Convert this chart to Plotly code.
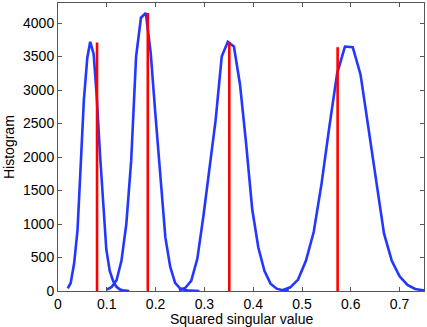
import plotly.graph_objects as go

# histogram curves, one per singular value
x1 = [0.020, 0.026, 0.033, 0.040, 0.046, 0.053, 0.060, 0.066, 0.073, 0.079,
      0.086, 0.093, 0.099, 0.106, 0.113, 0.119, 0.126, 0.132, 0.139, 0.146]
y1 = [40, 120, 410, 910, 1800, 2850, 3480, 3720, 3540, 2950,
      2050, 1200, 620, 300, 150, 70, 25, 10, 5, 0]

x2 = [0.100, 0.110, 0.120, 0.130, 0.140, 0.150, 0.160, 0.170, 0.180, 0.190,
      0.200, 0.210, 0.220, 0.230, 0.240, 0.250, 0.260, 0.270, 0.280, 0.290]
y2 = [20, 60, 160, 450, 1000, 1950, 3500, 4080, 4150, 3550,
      2600, 1650, 800, 360, 120, 40, 15, 5, 2, 0]

x3 = [0.248, 0.2605, 0.273, 0.2855, 0.298, 0.3105, 0.323, 0.3355, 0.348, 0.3605,
      0.373, 0.3855, 0.398, 0.4105, 0.423, 0.4355, 0.448, 0.4605, 0.473]
y3 = [10, 45, 150, 480, 1120, 1800, 2550, 3500, 3720, 3650,
      3080, 2200, 1220, 650, 300, 110, 35, 12, 5]

x4 = [0.460, 0.476, 0.492, 0.508, 0.524, 0.540, 0.556, 0.572, 0.588, 0.604,
      0.620, 0.636, 0.652, 0.668, 0.684, 0.700, 0.716, 0.732, 0.748, 0.764]
y4 = [10, 55, 170, 450, 880, 1600, 2450, 3250, 3650, 3640,
      3230, 2450, 1620, 860, 450, 220, 90, 30, 12, 5]

# true squared singular values (red markers)
true_x = [0.080, 0.184, 0.351, 0.573]
true_h = [3710, 4150, 3710, 3640]

xticks = [0, 0.1, 0.2, 0.3, 0.4, 0.5, 0.6, 0.7]
xticklabels = ["0", "0.1", "0.2", "0.3", "0.4", "0.5", "0.6", "0.7"]
yticks = [0, 500, 1000, 1500, 2000, 2500, 3000, 3500, 4000]

BLUE = "rgb(35,55,255)"
RED = "rgb(255,0,0)"
FONT = dict(family="Liberation Sans, Arial", size=14, color="black")

fig = go.Figure()

for xs, ys in [(x1, y1), (x2, y2), (x3, y3), (x4, y4)]:
    fig.add_trace(go.Scatter(x=xs, y=ys, mode="lines",
                             line=dict(color=BLUE, width=2.6), showlegend=False))

for xv, h in zip(true_x, true_h):
    fig.add_trace(go.Scatter(x=[xv, xv], y=[0, h], mode="lines",
                             line=dict(color=RED, width=2.6), showlegend=False))

axis_common = dict(
    showline=True, mirror="ticks", linecolor="#555", linewidth=1,
    ticks="inside", ticklen=4, tickcolor="#555",
    showgrid=False, zeroline=False, tickfont=FONT,
)

fig.update_layout(
    width=427, height=327,
    margin=dict(l=58, r=3, t=3, b=36),
    plot_bgcolor="white", paper_bgcolor="white",
    xaxis=dict(range=[0, 0.75], tickvals=xticks, ticktext=xticklabels, **axis_common),
    yaxis=dict(range=[0, 4300], tickvals=yticks, **axis_common),
    annotations=[
        dict(text="Squared singular value", xref="paper", yref="paper",
             x=0.5, y=0, yshift=-28, xanchor="center", yanchor="middle",
             showarrow=False, font=FONT),
        dict(text="Histogram", xref="paper", yref="paper",
             x=0, y=0.5, xshift=-49, xanchor="center", yanchor="middle",
             textangle=-90, showarrow=False, font=FONT),
    ],
)

fig.write_html("out.html", config={"displayModeBar": False},
               post_script="document.body.style.margin='0px';")
